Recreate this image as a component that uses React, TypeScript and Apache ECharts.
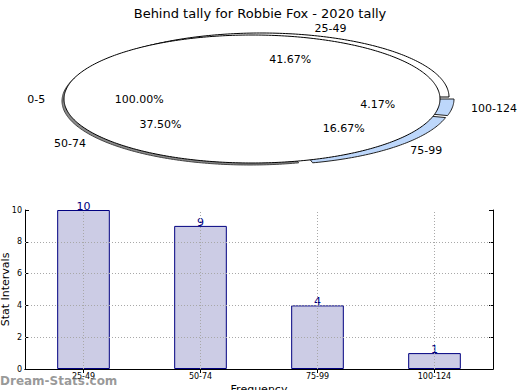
import React, { useEffect, useRef } from 'react';
import * as echarts from 'echarts';

const titleText = 'Behind tally for Robbie Fox - 2020 tally';
const categories = ['25-49', '50-74', '75-99', '100-124'];
const counts = [10, 9, 4, 1];
const overlayLabels = ['0-5'];
const overlayValues = [24];
const yTicks = [0, 2, 4, 6, 8, 10];

// styling / layout constants
const FONT = 'DejaVu Sans';
const PIE = { cx: 252, cy: 99, rx: 188, ry: 64 };
const sliceOffsets = [
  [9, -2],
  [-2, 2],
  [12, 2],
  [14, 0],
];
const sliceFills = ['#ffffff', '#8a8a8a', '#bdd7fb', '#bdd7fb'];
const sliceStrokes = ['#000000', '#444444', '#222222', '#222222'];

function arcPoints(cx: number, cy: number, a0: number, a1: number, withCenter: boolean) {
  const pts: number[][] = [];
  if (withCenter) pts.push([cx, cy]);
  const n = Math.max(2, Math.ceil(((a1 - a0) * 180) / Math.PI));
  for (let s = 0; s <= n; s++) {
    const a = a0 + ((a1 - a0) * s) / n;
    pts.push([cx + PIE.rx * Math.cos(a), cy - PIE.ry * Math.sin(a)]);
  }
  return pts;
}

function sliceAngles(values: number[], i: number) {
  const total = values.reduce((a, b) => a + b, 0);
  let before = 0;
  for (let k = 0; k < i; k++) before += values[k];
  const a0 = (before / total) * Math.PI * 2;
  const a1 = ((before + values[i]) / total) * Math.PI * 2;
  return { a0, a1, pct: (values[i] / total) * 100 };
}

export default function App() {
  const ref = useRef<HTMLDivElement>(null);
  useEffect(() => {
    if (!ref.current) return;
    const chart = echarts.init(ref.current, null, { renderer: 'svg' });
    const axisTickStyle = { show: true, inside: true, length: 4, lineStyle: { color: '#000' } };
    const option: any = {
      animation: false,
      backgroundColor: '#ffffff',
      textStyle: { fontFamily: FONT },
      title: {
        text: titleText,
        left: 'center',
        top: 2,
        textStyle: { fontFamily: FONT, fontSize: 13, fontWeight: 'normal', color: '#000' },
      },
      grid: { left: 25, right: 27, top: 210, bottom: 21, containLabel: false, outerBoundsMode: 'none' },
      xAxis: [
        {
          type: 'category',
          data: categories,
          position: 'bottom',
          name: 'Frequency',
          nameLocation: 'middle',
          nameGap: 15,
          nameMoveOverlap: false,
          nameTextStyle: { fontFamily: FONT, fontSize: 11, color: '#000', verticalAlign: 'top' },
          axisLine: { lineStyle: { color: '#000', width: 1 } },
          axisTick: { ...axisTickStyle, alignWithLabel: true },
          axisLabel: { fontFamily: FONT, fontSize: 8, color: '#000', margin: 3 },
          splitLine: { show: false },
        },
        {
          type: 'category',
          data: categories,
          position: 'top',
          axisLine: { lineStyle: { color: '#000', width: 1 } },
          axisTick: { ...axisTickStyle, alignWithLabel: true },
          axisLabel: { show: false },
          splitLine: { show: false },
        },
      ],
      yAxis: [
        {
          type: 'value',
          min: 0,
          max: 10,
          interval: 2,
          name: 'Stat Intervals',
          nameLocation: 'middle',
          nameGap: 14,
          nameMoveOverlap: false,
          nameTextStyle: { fontFamily: FONT, fontSize: 11, color: '#000' },
          axisLine: { show: true, lineStyle: { color: '#000', width: 1 } },
          axisTick: axisTickStyle,
          axisLabel: { fontFamily: FONT, fontSize: 8, color: '#000', margin: 3 },
          splitLine: { show: false },
        },
        {
          type: 'value',
          min: 0,
          max: 10,
          interval: 2,
          position: 'right',
          axisLine: { show: true, lineStyle: { color: '#000', width: 1 } },
          axisTick: axisTickStyle,
          axisLabel: { show: false },
          splitLine: { show: false },
        },
      ],
      series: [
        {
          type: 'bar',
          xAxisIndex: 0,
          yAxisIndex: 0,
          data: counts,
          barWidth: '45%',
          itemStyle: { color: '#ccccE5', borderColor: '#000080', borderWidth: 1 },
          label: {
            show: true,
            position: 'top',
            distance: -2,
            color: '#000080',
            fontFamily: FONT,
            fontSize: 11,
          },
          markLine: {
            silent: true,
            symbol: 'none',
            label: { show: false },
            lineStyle: { type: [1, 2], color: '#a8a8a8', width: 1 },
            data: [
              ...categories.map((c) => ({ xAxis: c })),
              ...yTicks.slice(1, -1).map((v) => ({ yAxis: v })),
            ],
          },
          z: 2,
        },
        {
          type: 'custom',
          coordinateSystem: 'none',
          z: 3,
          data: counts.map((v) => [v]),
          renderItem: (params: any, api: any) => {
            const i = params.dataIndex;
            const vals = counts.map((v, k) => (k === i ? api.value(0) : v));
            const { a0, a1 } = sliceAngles(vals, i);
            const [ox, oy] = sliceOffsets[i];
            return {
              type: 'polygon',
              shape: { points: arcPoints(PIE.cx + ox, PIE.cy + oy, a0, a1, true) },
              style: { fill: sliceFills[i], stroke: sliceStrokes[i], lineWidth: 1 },
            };
          },
        },
        {
          type: 'custom',
          coordinateSystem: 'none',
          z: 4,
          data: overlayValues.map((v) => [v]),
          renderItem: (params: any, api: any) => {
            const i = params.dataIndex;
            const vals = overlayValues.map((v, k) => (k === i ? api.value(0) : v));
            const { a0, a1, pct } = sliceAngles(vals, i);
            const mid = (a0 + a1) / 2;
            const pts = arcPoints(PIE.cx, PIE.cy, a0, a1, pct < 99.99);
            return {
              type: 'group',
              children: [
                {
                  type: 'polygon',
                  shape: { points: pts },
                  style: { fill: '#ffffff', stroke: '#000000', lineWidth: 1 },
                },
                {
                  type: 'text',
                  x: PIE.cx + PIE.rx * 1.1 * Math.cos(mid),
                  y: PIE.cy - PIE.ry * 1.1 * Math.sin(mid),
                  style: {
                    text: overlayLabels[i],
                    fill: '#000',
                    fontFamily: FONT,
                    fontSize: 11,
                    align: Math.cos(mid) >= 0 ? 'left' : 'right',
                    verticalAlign: 'middle',
                  },
                },
                {
                  type: 'text',
                  x: PIE.cx + PIE.rx * 0.6 * Math.cos(mid),
                  y: PIE.cy - PIE.ry * 0.6 * Math.sin(mid),
                  style: {
                    text: pct.toFixed(2) + '%',
                    fill: '#000',
                    fontFamily: FONT,
                    fontSize: 11,
                    align: 'center',
                    verticalAlign: 'middle',
                  },
                },
              ],
            };
          },
        },
        {
          type: 'custom',
          coordinateSystem: 'none',
          z: 5,
          data: counts.map((v) => [v]),
          renderItem: (params: any, api: any) => {
            const i = params.dataIndex;
            const vals = counts.map((v, k) => (k === i ? api.value(0) : v));
            const { a0, a1, pct } = sliceAngles(vals, i);
            const mid = (a0 + a1) / 2;
            const [ox, oy] = sliceOffsets[i];
            const cx = PIE.cx + ox;
            const cy = PIE.cy + oy;
            return {
              type: 'group',
              children: [
                {
                  type: 'text',
                  x: cx + PIE.rx * 1.1 * Math.cos(mid),
                  y: cy - PIE.ry * 1.1 * Math.sin(mid),
                  style: {
                    text: categories[i],
                    fill: '#000',
                    fontFamily: FONT,
                    fontSize: 11,
                    align: Math.cos(mid) >= 0 ? 'left' : 'right',
                    verticalAlign: 'middle',
                  },
                },
                {
                  type: 'text',
                  x: cx + PIE.rx * 0.6 * Math.cos(mid),
                  y: cy - PIE.ry * 0.6 * Math.sin(mid),
                  style: {
                    text: pct.toFixed(2) + '%',
                    fill: '#000',
                    fontFamily: FONT,
                    fontSize: 11,
                    align: 'center',
                    verticalAlign: 'middle',
                  },
                },
              ],
            };
          },
        },
      ],
      graphic: [
        {
          type: 'text',
          left: 0,
          top: 375,
          z: 10,
          style: {
            text: 'Dream-Stats.com',
            fill: 'rgba(120,120,120,0.75)',
            fontFamily: FONT,
            fontSize: 12,
            fontWeight: 'bold',
          },
        },
      ],
    };
    chart.setOption(option);
    return () => chart.dispose();
  }, []);
  return (
    <div
      ref={ref}
      style={{ position: 'fixed', left: 0, top: 0, width: 520, height: 390, background: '#fff' }}
    />
  );
}
